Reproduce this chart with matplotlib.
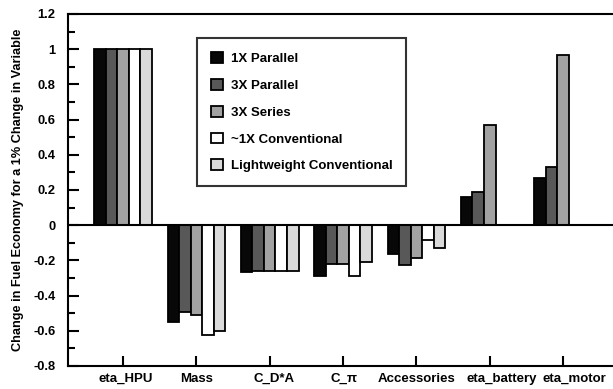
import matplotlib
matplotlib.use("Agg")
import matplotlib.pyplot as plt
import matplotlib.transforms as mtransforms
import numpy as np
from matplotlib.ticker import MultipleLocator

categories = ["eta_HPU", "Mass", "C_D*A", "C_\u03c0", "Accessories", "eta_battery", "eta_motor"]
series_names = ["1X Parallel", "3X Parallel", "3X Series", "~1X Conventional", "Lightweight Conventional"]
par1x = [1.0, -0.55, -0.265, -0.288, -0.165, 0.161, 0.271]
par3x = [1.0, -0.496, -0.26, -0.22, -0.227, 0.189, 0.333]
ser3x = [1.0, -0.51, -0.26, -0.22, -0.186, 0.57, 0.966]
conv1x = [1.0, -0.623, -0.26, -0.288, -0.083, None, None]
lwconv = [1.0, -0.60, -0.26, -0.208, -0.127, None, None]
colors = ["#080808", "#585858", "#a2a2a2", "#ffffff", "#dadada"]
yticks = [-0.8, -0.6, -0.4, -0.2, 0, 0.2, 0.4, 0.6, 0.8, 1, 1.2]

plt.rcParams['font.family'] = ['Liberation Sans', 'DejaVu Sans']
plt.rcParams['font.weight'] = 'bold'

fig = plt.figure(figsize=(6.13, 3.89), dpi=100)
ax = fig.add_axes([68/613, 23/389, 1 - 68/613, (366-14)/389])

x = np.arange(len(categories))
w = 0.157
all_series = [par1x, par3x, ser3x, conv1x, lwconv]
for i, (vals, name, c) in enumerate(zip(all_series, series_names, colors)):
    xs = [xi + (i - 2) * w for xi, v in zip(x, vals) if v is not None]
    vs = [v for v in vals if v is not None]
    ax.bar(xs, vs, width=w, color=c, edgecolor='black', linewidth=1.3, label=name, zorder=3)

ax.axhline(0, color='black', linewidth=1.5, zorder=4)
ax.set_xlim(-0.75, 6.68)
ax.set_ylim(-0.8, 1.2)
ax.set_yticks(yticks)
ax.set_yticklabels([("%g" % t) for t in yticks])
ax.yaxis.set_minor_locator(MultipleLocator(0.1))
ax.set_xticks(x)
ax.set_xticklabels(categories)
ax.tick_params(axis='y', which='major', direction='in', length=8, width=1.5, labelsize=9.3, pad=9)
ax.tick_params(axis='y', which='minor', direction='in', length=5, width=1.5)
ax.tick_params(axis='x', which='major', direction='in', length=7, width=1.5, labelsize=9.5, pad=5)
for lab in ax.get_xticklabels() + ax.get_yticklabels():
    lab.set_fontweight('bold')
# label offsets (pixels) as in the reference
shifts = [3, 0, 4, 1, 0, 12, 11]
for lab, s in zip(ax.get_xticklabels(), shifts):
    lab.set_transform(lab.get_transform() + mtransforms.ScaledTranslation(s / 100, 0, fig.dpi_scale_trans))
for s in ['left', 'bottom', 'top']:
    ax.spines[s].set_linewidth(1.5)
ax.spines['right'].set_visible(False)

ax.set_ylabel("Change in Fuel Economy for a 1% Change in Variable", fontsize=9.2, fontweight='bold', labelpad=7)

leg = ax.legend(loc='upper left', bbox_to_anchor=(197/613, 1 - 38/389), bbox_transform=fig.transFigure,
                frameon=True, fancybox=False, edgecolor='black', fontsize=9.5,
                handlelength=0.9, handleheight=0.9, labelspacing=1.05, borderpad=1.05,
                handletextpad=0.6, borderaxespad=0)
leg.get_frame().set_linewidth(1.5)
for t in leg.get_texts():
    t.set_fontweight('bold')

fig.savefig("out.png", dpi=100)
